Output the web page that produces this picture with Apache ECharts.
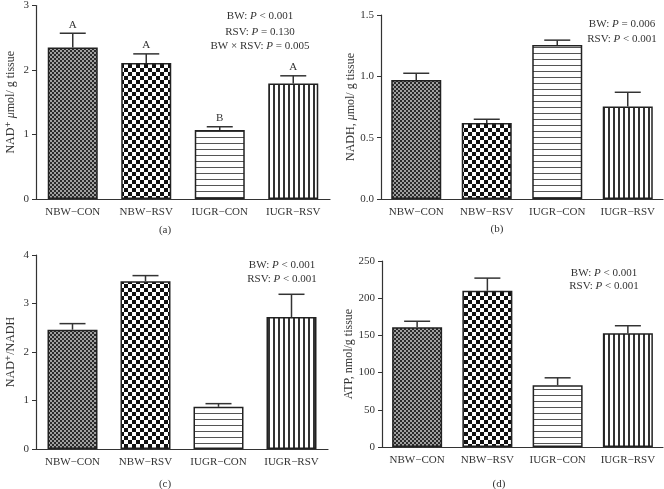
<!DOCTYPE html>
<html><head><meta charset="utf-8">
<script src="https://cdn.jsdelivr.net/npm/echarts@6/dist/echarts.min.js"></script>
<style>html,body{margin:0;padding:0;background:#fff}#c{width:664px;height:489px}</style>
</head><body><div id="c"></div>
<script>
const categories = ['NBW\u2212CON','NBW\u2212RSV','IUGR\u2212CON','IUGR\u2212RSV'];
const nadMean = [2.35, 2.11, 1.07, 1.79];
const nadErr  = [2.57, 2.25, 1.12, 1.91];
const nadLetters = ['A','A','B','A'];
const nadhMean = [0.97, 0.62, 1.255, 0.755];
const nadhErr  = [1.025, 0.65, 1.295, 0.87];
const ratioMean = [2.46, 3.46, 0.87, 2.72];
const ratioErr  = [2.585, 3.575, 0.935, 3.19];
const atpMean = [161, 210, 83, 153];
const atpErr  = [169, 227, 93, 163];

const FONT = '"Liberation Serif", "DejaVu Serif", serif';
const INK = '#333';

function mk(w, h, draw){ const c=document.createElement('canvas'); c.width=w; c.height=h; const g=c.getContext('2d'); g.fillStyle='#fff'; g.fillRect(0,0,w,h); draw(g); return c; }
const pFine = mk(4,4,g=>{g.fillStyle='#2a2a2a'; g.fillRect(0,0,2,2); g.fillRect(2,2,2,2); g.fillStyle='#a0a0a0'; g.fillRect(2,0,2,2); g.fillRect(0,2,2,2);});
const pChk = mk(8,8,g=>{g.fillStyle='#111'; g.fillRect(0,0,4,4); g.fillRect(4,4,4,4);});
const pHor = mk(6,6,g=>{g.fillStyle='#555'; g.fillRect(0,5,6,1);});
const pVer = mk(5,5,g=>{g.fillStyle='#333'; g.fillRect(3,0,2,5);});
const patterns = [pFine,pChk,pHor,pVer].map(c=>({image:c, repeat:'repeat'}));

const grids = [
  {left:36, top:3, width:294, height:196},
  {left:381, top:15, width:282, height:184},
  {left:36, top:255, width:292, height:194},
  {left:382, top:261, width:281, height:186}
];
const yCfg = [
  {max:3, interval:1, name:'{b|NAD\u207A} {i|\u03BC}mol/ g tissue', gap:19, fmt:v=>String(v)},
  {max:1.5, interval:0.5, name:'NADH, {i|\u03BC}mol/ g tissue', gap:23, fmt:v=>v.toFixed(1)},
  {max:4, interval:1, name:'NAD\u207A/NADH', gap:19, fmt:v=>String(v)},
  {max:250, interval:50, name:'ATP, nmol/g tissue', gap:26, fmt:v=>String(v)}
];
const means = [nadMean, nadhMean, ratioMean, atpMean];
const errs = [nadErr, nadhErr, ratioErr, atpErr];
const letters = [nadLetters, null, null, null];

function errRender(lt){ return function(params, api){
  const i = api.value(0);
  const p0 = api.coord([i, api.value(1)]);
  const p1 = api.coord([i, api.value(2)]);
  const hw = 13;
  const ch = [
    {type:'line', shape:{x1:p0[0],y1:p0[1],x2:p1[0],y2:p1[1]}, style:{stroke:INK,lineWidth:1.5}},
    {type:'line', shape:{x1:p1[0]-hw,y1:p1[1],x2:p1[0]+hw,y2:p1[1]}, style:{stroke:INK,lineWidth:1.5}}
  ];
  if (lt && lt[i]) ch.push({type:'text', x:p1[0], y:p1[1]-3, style:{text:lt[i], textAlign:'center', textVerticalAlign:'bottom', font:'11px '+FONT, fill:INK}});
  return {type:'group', children:ch};
};}

const NAMEFS = 12;
const xAxis = [], yAxis = [], series = [];
grids.forEach((g,k)=>{
  xAxis.push({type:'category', gridIndex:k, data:categories,
    axisLine:{lineStyle:{color:INK,width:1.2}}, axisTick:{alignWithLabel:true, length:5, lineStyle:{color:INK}},
    axisLabel:{color:INK, fontFamily:FONT, fontSize:11, margin:8, interval:0, hideOverlap:false}});
  const y = yCfg[k];
  yAxis.push({type:'value', gridIndex:k, min:0, max:y.max, interval:y.interval,
    name:y.name, nameLocation:'middle', nameGap:y.gap, nameRotate:90,
    nameTextStyle:{color:INK, fontFamily:FONT, fontSize:NAMEFS, rich:{i:{fontStyle:'italic', fontFamily:FONT, fontSize:NAMEFS, color:INK}, b:{fontFamily:FONT, fontSize:NAMEFS, color:INK}}},
    splitLine:{show:false}, axisLine:{show:true, lineStyle:{color:INK,width:1.2}},
    axisTick:{show:true, length:4, lineStyle:{color:INK}},
    axisLabel:{color:INK, fontFamily:FONT, fontSize:11, margin:7, formatter:y.fmt}});
  series.push({type:'bar', xAxisIndex:k, yAxisIndex:k, barWidth:50,
    data: means[k].map((v,i)=>({value:v, itemStyle:{color:patterns[i], borderColor:'#222', borderWidth:1.5}})),
    silent:true, animation:false});
  series.push({type:'custom', xAxisIndex:k, yAxisIndex:k, renderItem:errRender(letters[k]),
    encode:{x:0, y:[1,2]}, data: means[k].map((v,i)=>[i, v, errs[k][i]]), z:5, animation:false});
});

function txt(x, y, s){ return {type:'text', x:x, y:y, style:{text:s, textAlign:'center', textVerticalAlign:'middle', font:'11px '+FONT, fill:INK, rich:{i:{fontStyle:'italic', fontFamily:FONT, fontSize:11, fill:INK}, n:{fontFamily:FONT, fontSize:11, fill:INK}}}}; }
const graphic = [
  txt(260, 16, '{n|BW: }{i|P}{n| < 0.001}'),
  txt(260, 32, '{n|RSV: }{i|P}{n| = 0.130}'),
  txt(260, 46, '{n|BW × RSV: }{i|P}{n| = 0.005}'),
  txt(622, 24, '{n|BW: }{i|P}{n| = 0.006}'),
  txt(622, 39, '{n|RSV: }{i|P}{n| < 0.001}'),
  txt(282, 265, '{n|BW: }{i|P}{n| < 0.001}'),
  txt(282, 279, '{n|RSV: }{i|P}{n| < 0.001}'),
  txt(604, 273, '{n|BW: }{i|P}{n| < 0.001}'),
  txt(604, 286, '{n|RSV: }{i|P}{n| < 0.001}'),
  txt(165, 230, '(a)'), txt(497, 229, '(b)'), txt(165, 484, '(c)'), txt(499, 484, '(d)')
];

const chart = echarts.init(document.getElementById('c'), null, {renderer:'canvas'});
chart.setOption({animation:false, grid:grids, xAxis, yAxis, series, graphic});
</script></body></html>
